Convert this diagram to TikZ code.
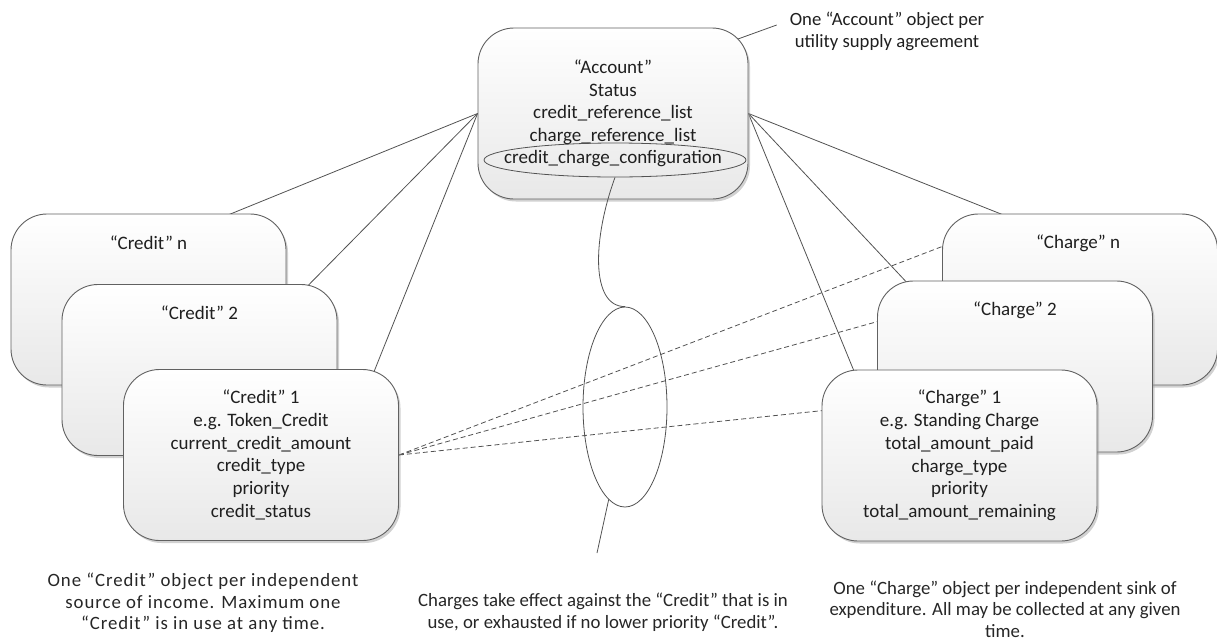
\documentclass[tikz,border=0pt]{standalone}
\usepackage{fontspec}
\setmainfont{Carlito}
\newfontfamily\spacedfont{Carlito}[LetterSpace=5]
\usetikzlibrary{shapes.geometric,shadows,calc}
\pgfdeclarelayer{background}
\pgfsetlayers{background,main}
\begin{document}
\begin{tikzpicture}[x=1pt,y=-1pt,
  box/.style={draw=black!62, line width=0.9pt, rounded corners=36pt,
    top color=white, bottom color=black!9,
    minimum width=275pt, minimum height=171pt, inner sep=0pt,
    align=center, font=\fontsize{19}{22.7}\selectfont, text=black!88,
    drop shadow={shadow xshift=2pt, shadow yshift=-2.5pt, fill=black!40, opacity=0.45}},
  lbl/.style={font=\fontsize{19}{22.7}\selectfont, align=center, inner sep=0pt, text=black!88},
  note/.style={font=\fontsize{18.8}{21.5}\selectfont, align=center, inner sep=0pt, text=black!85},
  conn/.style={draw=black!68, line width=0.8pt},
  dsh/.style={conn, dash pattern=on 5pt off 3pt},
  oval/.style={draw=black!68, line width=0.8pt, ellipse, inner sep=0pt}
]
\useasboundingbox (0,0) rectangle (1217,643);

% Credit boxes
\node[box] (cn) at (148.5,299.5) {};
\node[lbl] (cnt) at (148.5,243) {“Credit” n};
\node[box] (c2) at (199.5,370) {};
\node[lbl] (c2t) at (199.5,313) {“Credit” 2};
\node[box] (c1) at (261,455) {“Credit” 1\\e.g. Token\_Credit\\current\_credit\_amount\\credit\_type\\priority\\credit\_status};

% Charge boxes
\node[box] (hn) at (1080,299.5) {};
\node[lbl] (hnt) at (1078,243) {“Charge” n};
\node[box] (h2) at (1015,366.5) {};
\node[lbl] (h2t) at (1015,310) {“Charge” 2};
\node[box] (h1) at (959.5,455.5) {“Charge” 1\\e.g. Standing Charge\\total\_amount\_paid\\charge\_type\\priority\\total\_amount\_remaining};

% Account box
\node[box, minimum width=270pt, font=\fontsize{19}{22.5}\selectfont] (acc) at (613,113.5) {“Account”\\Status\\credit\_reference\_list\\charge\_reference\_list\\credit\_charge\_configuration};
\node[oval, minimum width=262pt, minimum height=34pt] (ccfg) at (615,160) {};

% middle oval
\node[oval, minimum width=84pt, minimum height=200pt] (mid) at (625,407) {};
\coordinate (midend) at (597,553);

% annotation
\node[lbl, font=\fontsize{18.7}{22}\selectfont] (annot) at (887,31) {One “Account” object per\\utility supply agreement};

% bottom notes
\node[note, font=\spacedfont\fontsize{18.8}{21.5}\selectfont] (ncr) at (203,603) {One “Credit” object per independent\\source of income. Maximum one\\“Credit” is in use at any time.};
\node[note] (nmid) at (603,612) {Charges take effect against the “Credit” that is in\\use, or exhausted if no lower priority “Credit”.};
\node[note] (nch) at (1005,609) {One “Charge” object per independent sink of\\expenditure. All may be collected at any given\\time.};

\begin{pgfonlayer}{background}
  \draw[conn, shorten >=-6pt] (acc.west) -- (cn.46);
  \draw[conn, shorten >=-6pt] (acc.west) -- (c2.38);
  \draw[conn, shorten >=-6pt] (acc.west) -- (c1.37);
  \draw[conn, shorten >=-6pt] (acc.east) -- (hn.133);
  \draw[conn, shorten >=-6pt] (acc.east) -- (h2.142);
  \draw[conn, shorten >=-6pt] (acc.east) -- (h1.141);
  \draw[conn, shorten <=-12pt] ($(acc.north east)+(-12,12)$) -- ($(annot.west)+(-13,-6)$);
  \draw[dsh, shorten >=-6pt] (c1.east) -- (hn.159);
  \draw[dsh, shorten >=-6pt] (c1.east) -- (h2.162);
  \draw[dsh, shorten >=-6pt] (c1.east) -- (h1.162);
\end{pgfonlayer}

\draw[conn] (ccfg.south) .. controls +(-22,60) and +(-35,0) .. (mid.north);
\draw[conn] (mid.-100) -- (midend);
\end{tikzpicture}
\end{document}
